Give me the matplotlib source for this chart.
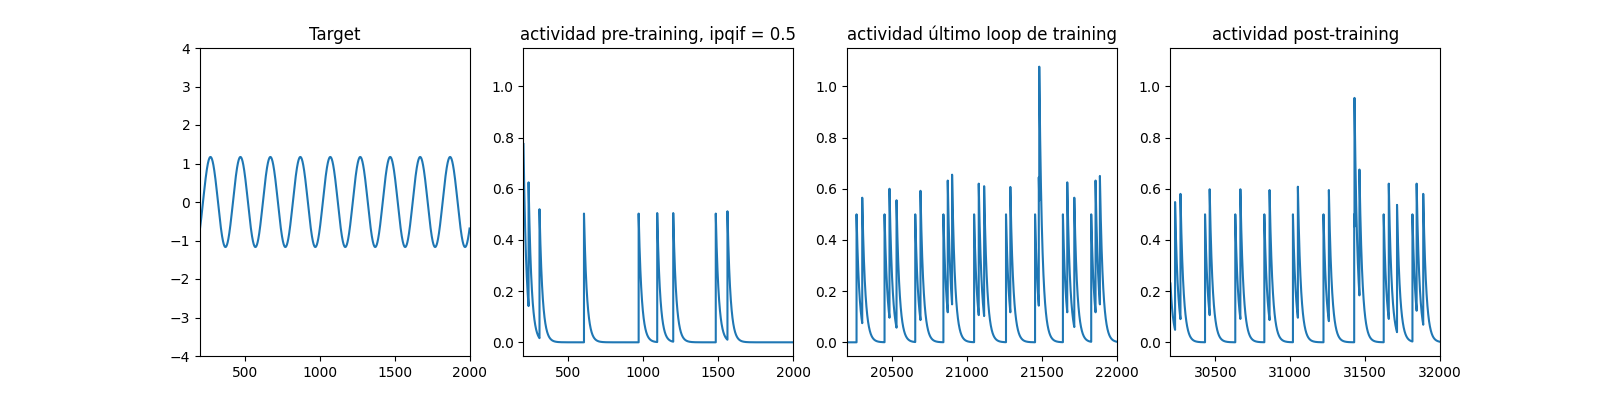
import numpy as np
import matplotlib
matplotlib.use("Agg")
import matplotlib.pyplot as plt

# target signal
target_amp = 1.17
target_period = 200.0
target_crest = 270.0
target_window = (200, 2000)

# spike trains: time of each jump and the level it jumps to
pre_window = (200, 2000)
pre_start = 0.775
pre_times = [234, 307, 604, 969, 1093, 1200, 1484, 1562]
pre_peaks = [0.625, 0.52, 0.503, 0.503, 0.505, 0.505, 0.503, 0.512]

last_window = (20200, 22000)
last_start = 0.0
last_times = [20264, 20302, 20451, 20484, 20531, 20656, 20691, 20844, 20873,
              20902, 21049, 21080, 21116, 21262, 21291, 21456, 21481, 21484,
              21642, 21671, 21718, 21831, 21860, 21889]
last_peaks = [0.5, 0.565, 0.5, 0.6, 0.555, 0.5, 0.592, 0.5, 0.632,
              0.655, 0.5, 0.62, 0.61, 0.5, 0.607, 0.5, 0.645, 1.077,
              0.5, 0.625, 0.565, 0.5, 0.632, 0.65]

post_window = (30200, 32000)
post_start = 0.23
post_times = [30231, 30267, 30431, 30462, 30633, 30667, 30827, 30862, 31018,
              31051, 31222, 31258, 31427, 31429, 31462, 31624, 31658, 31713,
              31816, 31844, 31888]
post_peaks = [0.548, 0.58, 0.5, 0.598, 0.5, 0.598, 0.5, 0.595, 0.5,
              0.608, 0.5, 0.595, 0.5, 0.955, 0.675, 0.5, 0.62, 0.537,
              0.5, 0.62, 0.58]

tau = 20.0


def trace(window, v0, times, peaks):
    # piecewise exponential decay between jumps
    starts = [window[0]] + times
    ends = times + [window[1]]
    levels = [v0] + peaks
    ts, vs = [], []
    for s, e, p in zip(starts, ends, levels):
        seg = np.linspace(s, e, max(int((e - s) * 2) + 1, 2))
        ts.append(seg)
        vs.append(p * np.exp(-(seg - s) / tau))
    return np.concatenate(ts), np.concatenate(vs)


fig, axs = plt.subplots(1, 4, figsize=(16, 4), dpi=100)

t = np.linspace(target_window[0], target_window[1], 3601)
axs[0].plot(t, target_amp * np.cos(2 * np.pi * (t - target_crest) / target_period))
axs[0].set_xlim(target_window)
axs[0].set_ylim(-4, 4)
axs[0].set_title("Target")

panels = [
    (pre_window, pre_start, pre_times, pre_peaks, "actividad pre-training, ipqif = 0.5"),
    (last_window, last_start, last_times, last_peaks, "actividad último loop de training"),
    (post_window, post_start, post_times, post_peaks, "actividad post-training"),
]
for ax, (win, v0, ts, ps, title) in zip(axs[1:], panels):
    x, y = trace(win, v0, ts, ps)
    ax.plot(x, y)
    ax.set_xlim(win)
    ax.set_ylim(-0.0535, 1.15)
    ax.set_title(title)

plt.savefig("out.png", dpi=100)
